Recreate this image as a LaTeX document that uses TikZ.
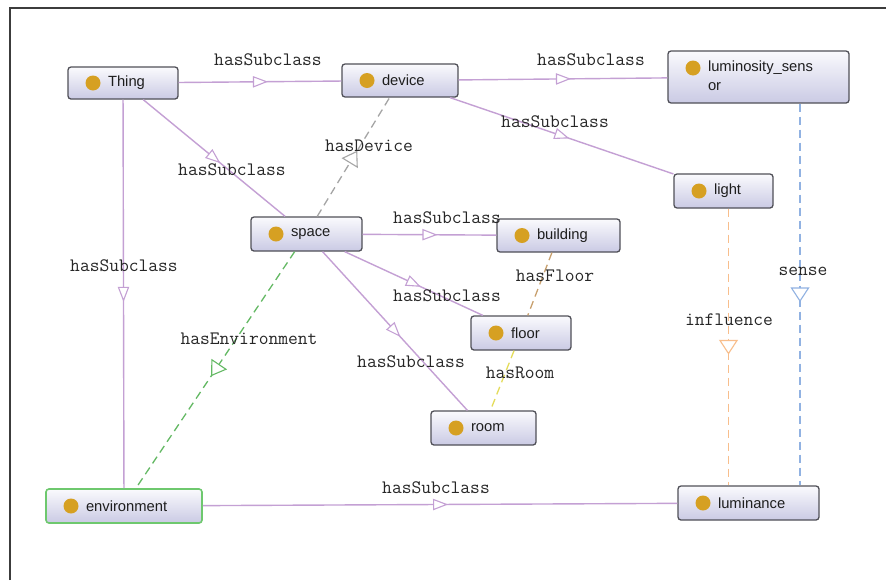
\documentclass[tikz,border=0pt]{standalone}
\usepackage{fontspec}
\newfontfamily\nodefont{Liberation Sans}
\usetikzlibrary{decorations.markings}
\newdimen\pxu \pxu=0.025cm
\definecolor{subc}{RGB}{196,160,212}
\definecolor{dotc}{RGB}{214,160,34}
\definecolor{nodeborder}{RGB}{80,80,88}
\definecolor{envborder}{RGB}{110,200,110}
\definecolor{envdash}{RGB}{100,185,100}
\definecolor{devdash}{RGB}{165,165,165}
\definecolor{infc}{RGB}{248,190,140}
\definecolor{sensec}{RGB}{145,178,226}
\definecolor{floorc}{RGB}{200,160,110}
\definecolor{roomc}{RGB}{228,220,90}
\definecolor{topc}{RGB}{250,250,253}
\definecolor{botc}{RGB}{202,202,228}
\definecolor{txtc}{RGB}{30,30,30}
\definecolor{framec}{RGB}{60,60,60}
\newcommand\clstext[2]{\makebox[#1\pxu][l]{\hspace*{40\pxu}#2}}
\tikzset{
  cls/.style={draw=nodeborder, line width=1.3\pxu, rounded corners=3\pxu,
    top color=topc, bottom color=botc, inner sep=0pt, text=txtc,
    font=\nodefont\fontsize{10.5}{14}\selectfont,
    path picture={\fill[dotc] ([xshift=25\pxu]path picture bounding box.west) circle (7.5\pxu);}},
  lbl/.style={font=\ttfamily\addfontfeatures{FakeBold=0.8}\fontsize{13.5}{14}\selectfont, inner sep=0pt, text=black!85},
  tri/.style={postaction={decorate, decoration={markings, mark=at position 0.5 with
    {\draw[#1, solid, fill=white, line width=1.1\pxu, line join=miter] (-6.5\pxu,-5\pxu) -- (6.5\pxu,0pt) -- (-6.5\pxu,5\pxu) -- cycle;}}}},
  tribig/.style={postaction={decorate, decoration={markings, mark=at position 0.5 with
    {\draw[#1, solid, fill=white, line width=1.1\pxu, line join=miter] (-6.5\pxu,-8.5\pxu) -- (6.5\pxu,0pt) -- (-6.5\pxu,8.5\pxu) -- cycle;}}}},
  subline/.style={draw=subc, line width=1.4\pxu, tri=subc},
  dashline/.style={draw=#1, line width=1.3\pxu, dash pattern=on 8\pxu off 5\pxu},
}
\begin{document}
\begin{tikzpicture}[x=0.025cm, y=-0.025cm]
\useasboundingbox (0,0) rectangle (886,580);
\fill[white] (0,0) rectangle (886,580);
\draw[framec, line width=1.5\pxu] (10,580) -- (10,8) -- (886,8);

% classes
\node[cls, minimum width=110\pxu, minimum height=32\pxu] (thing) at (123,83) {\clstext{110}{Thing}};
\node[cls, minimum width=116\pxu, minimum height=33\pxu] (device) at (400,80.5) {\clstext{116}{device}};
\node[cls, minimum width=181\pxu, minimum height=52\pxu,
  path picture={\fill[dotc] ([xshift=25\pxu, yshift=9\pxu]path picture bounding box.west) circle (7.5\pxu);}]
  (lumsens) at (758.5,77) {\clstext{181}{\begin{tabular}{@{}l@{}}luminosity\_sens\\or\end{tabular}}};
\node[cls, minimum width=99\pxu, minimum height=34\pxu] (light) at (723.5,191) {\clstext{99}{light}};
\node[cls, minimum width=111\pxu, minimum height=34\pxu] (space) at (306.5,234) {\clstext{111}{space}};
\node[cls, minimum width=123\pxu, minimum height=33\pxu] (building) at (558.5,235.5) {\clstext{123}{building}};
\node[cls, minimum width=100\pxu, minimum height=34\pxu] (floor) at (521,333) {\clstext{100}{floor}};
\node[cls, minimum width=105\pxu, minimum height=34\pxu] (room) at (483.5,428) {\clstext{105}{room}};
\node[cls, draw=envborder, line width=1.6\pxu, minimum width=156\pxu, minimum height=34\pxu] (env) at (124,506) {\clstext{156}{environment}};
\node[cls, minimum width=141\pxu, minimum height=34\pxu] (luminance) at (748.5,503) {\clstext{141}{luminance}};

% subclass connectors
\draw[subline] (thing) -- (device);
\draw[subline] (device) -- (lumsens);
\draw[subline] (device) -- (light);
\draw[subline] (thing) -- (space);
\draw[subline] (thing) -- (env);
\draw[subline] (space) -- (building);
\draw[subline] (space) -- (floor);
\draw[subline] (space) -- (room);
\draw[subline] (env) -- (luminance);

% object properties
\draw[dashline=devdash, tribig=devdash] (space) -- (device);
\draw[dashline=envdash, tribig=envdash] (space) -- (env);
\draw[dashline=floorc] (building) -- (floor);
\draw[dashline=roomc] (floor) -- (room);
\coordinate (infTop) at ([xshift=5\pxu]light.south);
\coordinate (infBot) at (infTop |- luminance.north);
\draw[dashline=infc, tribig=infc] (infTop) -- (infBot);
\coordinate (senTop) at ([xshift=41.5\pxu]lumsens.south);
\coordinate (senBot) at (senTop |- luminance.north);
\draw[dashline=sensec, tribig=sensec] (senTop) -- (senBot);

% labels
\node[lbl] (l1) at (268,60) {hasSubclass};
\node[lbl] (l2) at (591,60) {hasSubclass};
\node[lbl] (l3) at (555,122) {hasSubclass};
\node[lbl] (l4) at (232,170) {hasSubclass};
\node[lbl] (l5) at (124,266) {hasSubclass};
\node[lbl] (l6) at (447,218) {hasSubclass};
\node[lbl] (l7) at (447,296) {hasSubclass};
\node[lbl] (l8) at (411,362) {hasSubclass};
\node[lbl] (l9) at (436,488) {hasSubclass};
\node[lbl] (ldev) at (369,146) {hasDevice};
\node[lbl] (lenv) at (249,339) {hasEnvironment};
\node[lbl] (lfloor) at (555,276) {hasFloor};
\node[lbl] (lroom) at (520,373) {hasRoom};
\node[lbl] (lsense) at (803,271) {sense};
\node[lbl] (linf) at (729,320) {influence};
\end{tikzpicture}
\end{document}
